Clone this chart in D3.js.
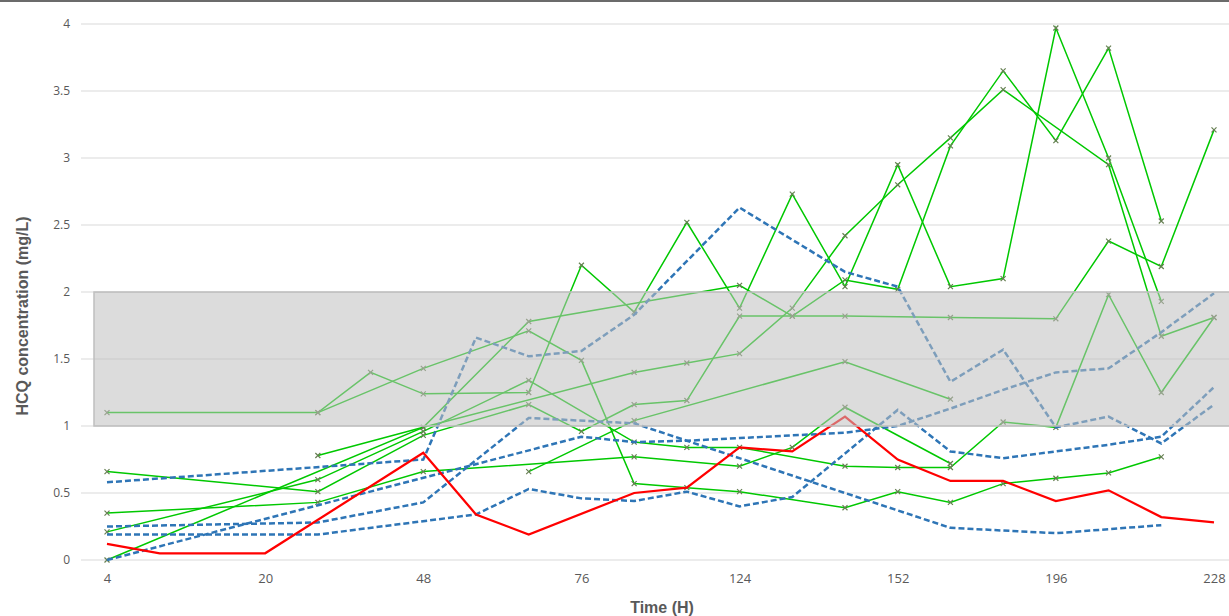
<!DOCTYPE html>
<html>
<head>
<meta charset="utf-8">
<script src="https://cdn.jsdelivr.net/npm/d3@7"></script>
<style>
  body { margin: 0; background: #fff; }
  svg { display: block; }
</style>
</head>
<body>
<div id="chart"></div>
<script>
// sampling times (H), one category per sample
const times = [4, 8, 12, 20, 24, 36, 48, 52, 60, 76, 84, 96, 124, 132, 140, 152, 164, 180, 196, 204, 216, 228];
const tickTimes = [4, 20, 48, 76, 124, 152, 196, 228];
const yTicks = [0, 0.5, 1, 1.5, 2, 2.5, 3, 3.5, 4];

// therapeutic range
const rangeLow = 1;
const rangeHigh = 2;

// patients, green solid with markers (null = no sample)
const green1 = [1.10, null, null, null, 1.10, 1.40, 1.24, null, 1.25, 2.20, 1.85, 2.52, 1.88, 2.73, 2.04, 2.95, 2.04, 2.10, 3.97, 3.00, 1.93, null];
const green2 = [null, null, null, null, 1.10, null, 1.43, null, 1.71, 1.49, 0.57, 0.54, 0.51, null, 0.39, 0.51, 0.43, 0.57, 0.61, 0.65, 0.77, null];
const green3 = [0.00, null, null, null, null, null, 0.99, null, 1.78, null, null, null, 2.05, 1.82, 2.09, 2.02, 3.09, 3.65, 3.13, 3.82, 2.53, null];
const green4 = [0.21, null, null, null, 0.60, null, 0.96, null, 1.34, null, 0.88, 0.84, 0.84, null, 0.70, 0.69, 0.69, 1.03, 0.99, 1.98, 1.25, 1.81];
const green5 = [null, null, null, null, 0.78, null, 0.99, null, null, null, 1.40, 1.47, 1.54, 1.88, 2.42, 2.80, 3.15, 3.51, null, 2.95, 1.67, 1.81];
const green6 = [0.35, null, null, null, 0.43, null, 0.66, null, null, null, 0.77, null, 0.70, 0.84, 1.14, null, 0.72, null, null, null, null, null];
const green7 = [0.66, null, null, null, 0.51, null, 0.93, null, 1.16, 0.96, 1.16, 1.19, 1.82, 1.82, 1.82, null, 1.81, null, 1.80, 2.38, 2.19, 3.21];
const green8 = [null, null, null, null, null, null, null, null, 0.66, null, 1.04, null, null, null, 1.48, null, 1.20, null, null, null, null, null];

// blue dashed
const blue1 = [0.58, null, null, null, null, null, 0.75, 1.66, 1.52, 1.56, 1.83, null, 2.63, null, 2.15, 2.04, 1.33, 1.57, 0.99, 1.07, 0.87, 1.16];
const blue2 = [0.25, null, null, null, 0.28, null, 0.43, null, 1.06, null, 1.02, null, null, null, null, null, 0.24, 0.22, 0.20, 0.23, 0.26, null];
const blue3 = [0.19, null, null, null, 0.19, null, null, 0.34, 0.53, 0.46, 0.44, 0.51, 0.40, 0.47, null, 1.12, 0.81, 0.76, 0.81, 0.86, 0.92, 1.29];
const blue4 = [0.00, null, null, null, null, null, null, null, null, 0.92, 0.88, 0.89, 0.91, 0.93, 0.95, 1.00, 1.13, 1.27, 1.40, 1.43, 1.70, 1.99];

// red
const red1 = [0.12, 0.05, null, 0.05, null, null, 0.80, 0.34, 0.19, null, 0.50, 0.54, 0.84, 0.81, 1.07, 0.75, 0.59, 0.59, 0.44, 0.52, 0.32, 0.28];

const greens = [green1, green2, green3, green4, green5, green6, green7, green8];
const blues = [blue1, blue2, blue3, blue4];

const width = 1229, height = 616;

const svg = d3.select("#chart")
    .append("svg")
    .attr("width", width)
    .attr("height", height);

const x = d3.scalePoint()
    .domain(times)
    .range([107, 1214]);

const y = d3.scaleLinear()
    .domain([0, 4])
    .range([560, 24]);

// top frame line
svg.append("line")
    .attr("x1", 0).attr("x2", width)
    .attr("y1", 1).attr("y2", 1)
    .attr("stroke", "#6b6b6b")
    .attr("stroke-width", 2);

// gridlines
svg.append("g")
    .selectAll("line")
    .data(yTicks)
    .join("line")
    .attr("x1", 81).attr("x2", width)
    .attr("y1", d => y(d)).attr("y2", d => y(d))
    .attr("stroke", "#d9d9d9")
    .attr("stroke-width", 1);

// y axis labels
const yAxis = svg.append("g")
    .attr("transform", "translate(70,0)")
    .call(d3.axisLeft(y).tickValues(yTicks).tickSize(0).tickPadding(0).tickFormat(d => String(d)));
yAxis.select(".domain").remove();
yAxis.selectAll("text")
    .attr("font-family", "'Open Sans', sans-serif")
    .attr("font-size", 12)
    .attr("fill", "#595959");

// x axis labels
const xAxis = svg.append("g")
    .attr("transform", "translate(0,560)")
    .call(d3.axisBottom(x).tickValues(tickTimes).tickSize(0).tickPadding(14));
xAxis.select(".domain").remove();
xAxis.selectAll("text")
    .attr("font-family", "'Open Sans', sans-serif")
    .attr("font-size", 13)
    .attr("fill", "#595959");

function points(arr) {
    return arr.map((v, i) => ({t: times[i], v: v})).filter(d => d.v !== null);
}

const line = d3.line()
    .x(d => x(d.t))
    .y(d => y(d.v));

// green series
const gGreen = svg.append("g");
greens.forEach(s => {
    gGreen.append("path")
        .datum(points(s))
        .attr("d", line)
        .attr("fill", "none")
        .attr("stroke", "#00c800")
        .attr("stroke-width", 1.5);
});
greens.forEach(s => {
    gGreen.append("g")
        .selectAll("path")
        .data(points(s))
        .join("path")
        .attr("transform", d => `translate(${x(d.t)},${y(d.v)})`)
        .attr("d", d3.symbol(d3.symbolX, 18))
        .attr("fill", "none")
        .attr("stroke", "#667f52")
        .attr("stroke-width", 1.2);
});

// blue dashed series
blues.forEach(s => {
    svg.append("path")
        .datum(points(s))
        .attr("d", line)
        .attr("fill", "none")
        .attr("stroke", "#2e75b6")
        .attr("stroke-width", 2.5)
        .attr("stroke-dasharray", "6,3");
});

// red series
svg.append("path")
    .datum(points(red1))
    .attr("d", line)
    .attr("fill", "none")
    .attr("stroke", "#ff0000")
    .attr("stroke-width", 2.25);

// therapeutic range band, drawn over the lines
svg.append("rect")
    .attr("x", 94)
    .attr("y", y(rangeHigh))
    .attr("width", width - 94 + 2)
    .attr("height", y(rangeLow) - y(rangeHigh))
    .attr("fill", "#bfbfbf")
    .attr("fill-opacity", 0.55)
    .attr("stroke", "#bfbfbf")
    .attr("stroke-width", 1.5);

// axis titles
svg.append("text")
    .attr("transform", "translate(28,316) rotate(-90)")
    .attr("text-anchor", "middle")
    .attr("font-family", "'Liberation Sans', Arial, sans-serif")
    .attr("font-weight", "bold")
    .attr("font-size", 16)
    .attr("fill", "#595959")
    .text("HCQ concentration (mg/L)");

svg.append("text")
    .attr("x", 662)
    .attr("y", 613)
    .attr("text-anchor", "middle")
    .attr("font-family", "'Liberation Sans', Arial, sans-serif")
    .attr("font-weight", "bold")
    .attr("font-size", 16)
    .attr("fill", "#595959")
    .text("Time (H)");
</script>
</body>
</html>
